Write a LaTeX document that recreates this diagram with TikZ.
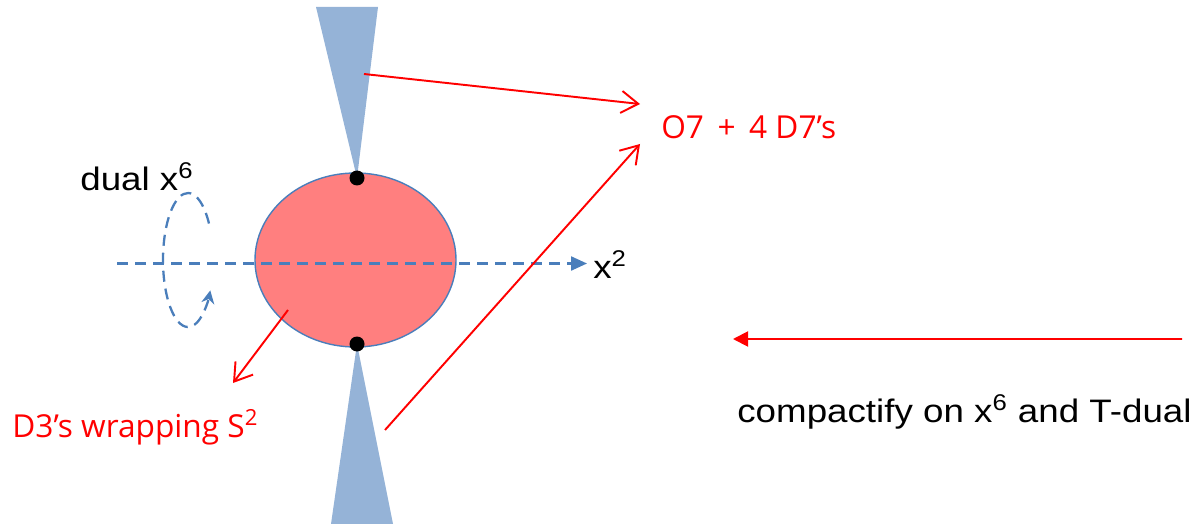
\documentclass[tikz,border=0pt]{standalone}
\usepackage{fontspec}
\setmainfont{Liberation Sans}
\newfontfamily\widesans[FakeStretch=1.13]{Liberation Sans}
\newfontfamily\redsans{Open Sans}
\usepackage{tikz}
\usetikzlibrary{arrows.meta,shapes.geometric,positioning}
\definecolor{ConeBlue}{HTML}{95B3D7}
\definecolor{AxisBlue}{HTML}{4A7EBB}
\definecolor{SphereRed}{HTML}{FF7F7F}
\definecolor{BraneRed}{HTML}{FF0000}

\begin{document}
\begin{tikzpicture}[
  pole/.style={circle, fill=black, inner sep=0pt, minimum size=0.3cm},
  axisline/.style={draw=AxisBlue, line width=1.3pt, dash pattern=on 0.22cm off 0.14cm},
  redarrow/.style={draw=BraneRed, line width=1.1pt,
                   -{Straight Barb[length=3.4mm,width=4.4mm]}},
  bigarrow/.style={draw=BraneRed, line width=1.1pt,
                   -{Triangle[length=3mm,width=3mm]}},
  blacklbl/.style={anchor=base west, inner sep=0pt,
                   font=\widesans\fontsize{18.5}{22}\selectfont},
  redlbl/.style={anchor=base west, inner sep=0pt, text=BraneRed,
                 font=\redsans\fontsize{18}{22}\selectfont}
]
  \useasboundingbox (0,0) rectangle (23.98,-10.48);

  \coordinate (ntip) at (7.14,-3.56);
  \coordinate (stip) at (7.14,-6.88);
  \fill[ConeBlue] (ntip) -- (6.32,-0.14) -- (7.56,-0.14) -- cycle;
  \fill[ConeBlue] (stip) -- (6.62,-10.48) -- (7.86,-10.48) -- cycle;

  \node[ellipse, draw=AxisBlue, fill=SphereRed, line width=0.8pt, inner sep=0pt,
        minimum width=4.02cm, minimum height=3.48cm] (sphere) at (7.11,-5.20) {};
  \node[pole] (npole) at (ntip) {};
  \node[pole] (spole) at (stip) {};

  \coordinate (axstart) at (2.34,-5.27);
  \coordinate (axend) at (11.74,-5.27);
  \draw[axisline, -{Triangle[length=3.2mm,width=2.8mm]}] (axstart) -- (axend);
  \node[blacklbl] (xtwo) at (11.86,-5.56) {x\textsuperscript{2}};

  \coordinate (loopc) at (3.76,-5.20);
  \draw[axisline, -{Stealth[length=2.6mm,width=2.6mm]}]
    (loopc) ++(33:0.5cm and 1.34cm)
    arc[start angle=33, end angle=333, x radius=0.5cm, y radius=1.34cm];
  \node[blacklbl] (dual) at (1.60,-3.80) {dual x\textsuperscript{6}};

  \node[redlbl] (o7) at (13.22,-2.78) {O7 \,+\, 4 D7’s};
  \node[redlbl] (d3) at (0.24,-8.74) {D3’s wrapping S\textsuperscript{2}};
  \node[blacklbl] (tdual) at (14.74,-8.44) {compactify on x\textsuperscript{6} and T-dual};

  \coordinate (ncone) at (7.28,-1.48);
  \coordinate (scone) at (7.70,-8.60);
  \coordinate (tdright) at (23.64,-6.78);
  \draw[redarrow] (ncone) -- ([xshift=-0.42cm,yshift=0.70cm]o7.base west);
  \draw[redarrow] (scone) -- ([xshift=-0.42cm,yshift=-0.10cm]o7.base west);
  \draw[redarrow] ([xshift=-1.35cm,yshift=-1.0cm]sphere.center)
    -- ([xshift=4.42cm,yshift=1.08cm]d3.base west);
  \draw[bigarrow] (tdright) -- ([xshift=-0.08cm,yshift=1.66cm]tdual.base west);
\end{tikzpicture}
\end{document}
